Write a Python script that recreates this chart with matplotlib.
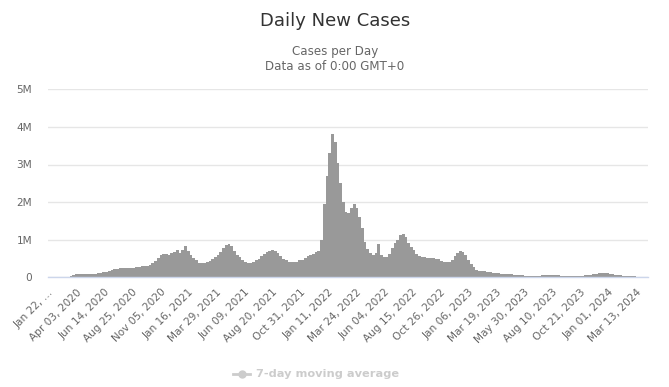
import matplotlib
matplotlib.use("Agg")
import matplotlib.pyplot as plt
import numpy as np
from matplotlib.lines import Line2D

# ---------------- data ----------------
start_date = "2020-01-22"
n_days = 1543                      # days on the category axis
tick_step_days = 72
tick_labels = ["Jan 22, \u2026", "Apr 03, 2020", "Jun 14, 2020", "Aug 25, 2020",
               "Nov 05, 2020", "Jan 16, 2021", "Mar 29, 2021", "Jun 09, 2021",
               "Aug 20, 2021", "Oct 31, 2021", "Jan 11, 2022", "Mar 24, 2022",
               "Jun 04, 2022", "Aug 15, 2022", "Oct 26, 2022", "Jan 06, 2023",
               "Mar 19, 2023", "May 30, 2023", "Aug 10, 2023", "Oct 21, 2023",
               "Jan 01, 2024", "Mar 13, 2024"]
y_tick_values = [0, 1, 2, 3, 4, 5]          # millions
y_tick_labels = ["0", "1M", "2M", "3M", "4M", "5M"]

# weekly daily-case level (millions), week k starts at start_date + 7k days
weekly_cases_m = [
    0.001, 0.002, 0.003, 0.004, 0.002, 0.003, 0.005, 0.012, 0.03, 0.055,   # w0-9
    0.075, 0.08, 0.08, 0.08, 0.085, 0.085, 0.09, 0.10, 0.11, 0.12,         # w10-19
    0.13, 0.15, 0.17, 0.19, 0.21, 0.23, 0.25, 0.26, 0.26, 0.26,            # w20-29
    0.26, 0.26, 0.27, 0.28, 0.29, 0.30, 0.31, 0.34, 0.38, 0.44,            # w30-39
    0.52, 0.58, 0.62, 0.61, 0.60, 0.64, 0.68, 0.72, 0.64, 0.72,            # w40-49
    0.82, 0.70, 0.60, 0.52, 0.45, 0.39, 0.37, 0.38, 0.41, 0.44,            # w50-59
    0.48, 0.55, 0.60, 0.68, 0.78, 0.86, 0.89, 0.82, 0.70, 0.60,            # w60-69
    0.53, 0.46, 0.40, 0.38, 0.38, 0.40, 0.45, 0.50, 0.56, 0.62,            # w70-79
    0.66, 0.70, 0.72, 0.70, 0.64, 0.56, 0.50, 0.45, 0.42, 0.40,            # w80-89
    0.40, 0.42, 0.45, 0.47, 0.52, 0.56, 0.58, 0.62, 0.68, 0.70,            # w90-99
    1.00, 1.95, 2.70, 3.30, 3.80, 3.60, 3.05, 2.50, 2.00, 1.75,            # w100-109
    1.70, 1.85, 1.95, 1.85, 1.60, 1.30, 0.95, 0.75, 0.65, 0.60,            # w110-119
    0.65, 0.88, 0.60, 0.55, 0.55, 0.62, 0.78, 0.90, 1.00, 1.12,            # w120-129
    1.15, 1.08, 0.92, 0.80, 0.72, 0.62, 0.56, 0.53, 0.53, 0.51,            # w130-139
    0.51, 0.51, 0.50, 0.48, 0.44, 0.42, 0.40, 0.42, 0.46, 0.56,            # w140-149
    0.64, 0.71, 0.66, 0.58, 0.45, 0.35, 0.27, 0.20, 0.18, 0.17,            # w150-159
    0.16, 0.15, 0.13, 0.12, 0.12, 0.11, 0.10, 0.10, 0.09, 0.08,            # w160-169
    0.075, 0.07, 0.065, 0.06, 0.05, 0.045, 0.04, 0.035, 0.03, 0.03,        # w170-179
    0.04, 0.05, 0.055, 0.06, 0.06, 0.06, 0.055, 0.05, 0.04, 0.035,         # w180-189
    0.03, 0.03, 0.035, 0.04, 0.04, 0.035, 0.04, 0.05, 0.06, 0.07,          # w190-199
    0.08, 0.09, 0.11, 0.12, 0.12, 0.11, 0.09, 0.08, 0.07, 0.06,            # w200-209
    0.05, 0.04, 0.035, 0.03, 0.03, 0.025, 0.02, 0.01,                      # w210-217
]

# ---------------- figure ----------------
W, H = 669, 387
fig = plt.figure(figsize=(W / 100, H / 100), dpi=100)
fig.patch.set_facecolor("white")

def fx(px):
    return px / W

def fy(py):
    return 1 - py / H

ax = fig.add_axes([fx(48), fy(277.3), 600 / W, 188 / H])
ax.set_facecolor("white")

weeks = np.arange(len(weekly_cases_m))
x_days = weeks * 7 + 3
ax.bar(x_days, np.array(weekly_cases_m) * 1e6, width=7, color="#999999",
       linewidth=0, zorder=3)

ax.set_xlim(-0.5, n_days - 0.5)
ax.set_ylim(0, 5e6)

ax.set_yticks(np.array(y_tick_values) * 1e6)
ax.set_yticklabels(y_tick_labels, fontsize=7.6, color="#666666")
ax.tick_params(axis="y", length=0, pad=11.5)
ax.grid(axis="y", color="#e6e6e6", linewidth=1, zorder=0)

tick_pos = np.arange(len(tick_labels)) * tick_step_days
ax.set_xticks(tick_pos)
ax.set_xticklabels(tick_labels, rotation=45, ha="right", va="top",
                   rotation_mode="anchor", fontsize=7.6, color="#666666")
ax.tick_params(axis="x", length=0, pad=7)

for s in ["top", "right", "left"]:
    ax.spines[s].set_visible(False)
ax.spines["bottom"].set_color("#ccd6eb")
ax.spines["bottom"].set_linewidth(1)
ax.spines["bottom"].set_zorder(4)

# titles
fig.text(fx(335), fy(21), "Daily New Cases", ha="center", va="center",
         fontsize=13, color="#333333")
fig.text(fx(335), fy(52), "Cases per Day", ha="center", va="center",
         fontsize=8.6, color="#666666")
fig.text(fx(335), fy(67), "Data as of 0:00 GMT+0", ha="center", va="center",
         fontsize=8.6, color="#666666")

# legend (hidden series)
fig.add_artist(Line2D([fx(233), fx(250)], [fy(374), fy(374)], color="#cccccc",
                      linewidth=2, marker=None, transform=fig.transFigure))
fig.add_artist(Line2D([fx(241.5)], [fy(374)], color="#cccccc", marker="o",
                      markersize=5, linestyle="none", transform=fig.transFigure))
fig.text(fx(256), fy(374), "7-day moving average", ha="left", va="center",
         fontsize=8.2, fontweight="bold", color="#cccccc")

fig.savefig("out.png", dpi=100, facecolor="white")
